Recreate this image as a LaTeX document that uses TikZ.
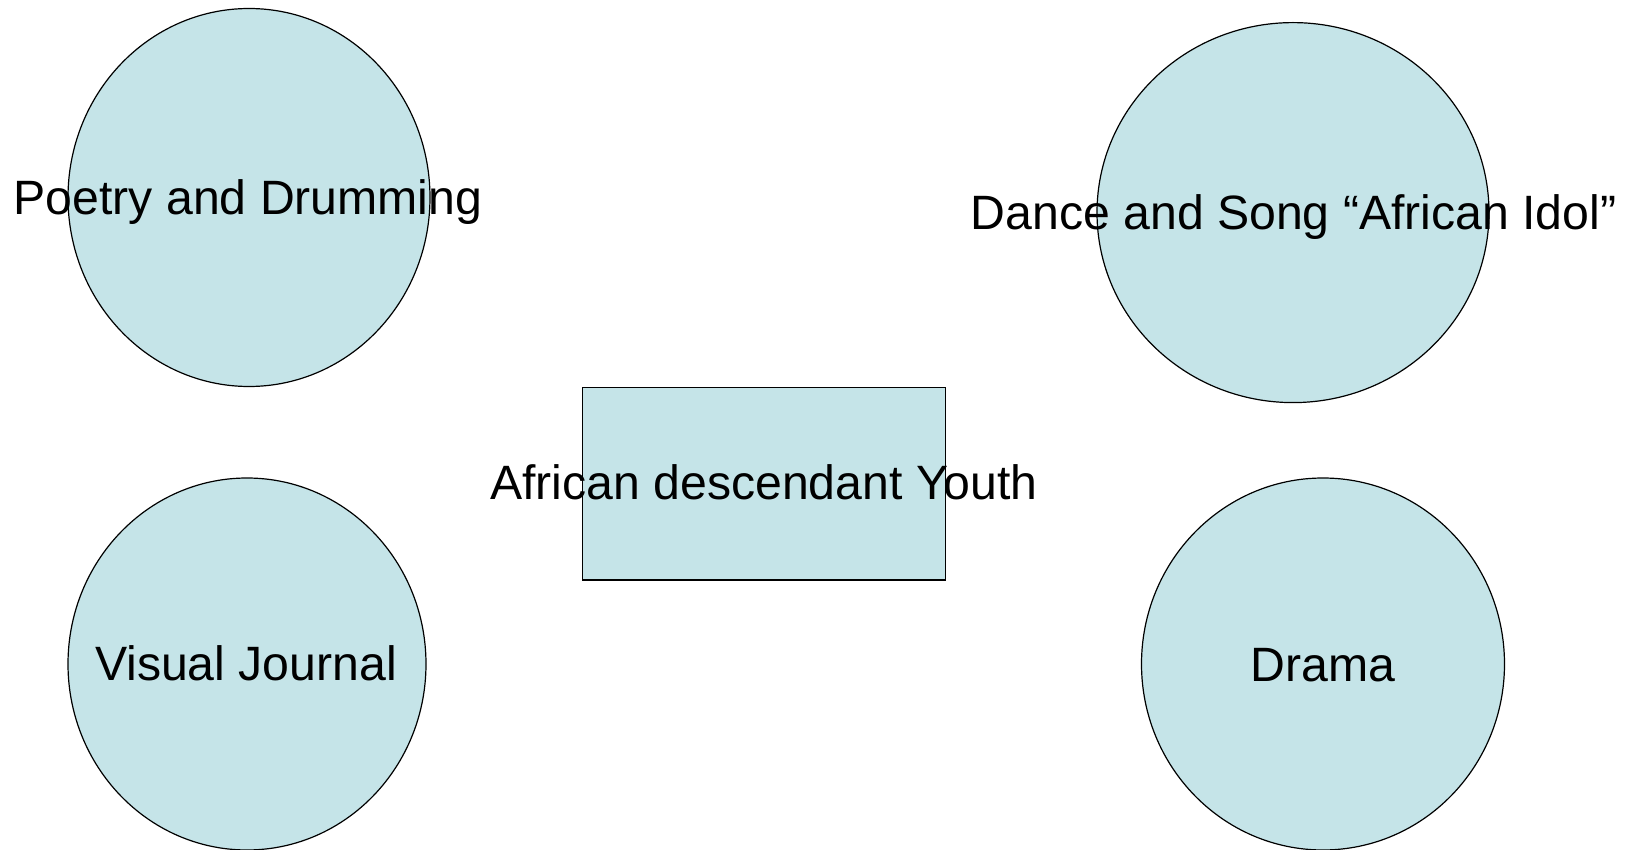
\documentclass[tikz,border=0pt]{standalone}
\usepackage{fontspec}
\setmainfont{Liberation Sans}
\usetikzlibrary{shapes.geometric}
\definecolor{paleblue}{RGB}{197,228,232}
\tikzset{
  topic/.style={ellipse, draw=black, fill=paleblue, line width=1.2pt, inner sep=0pt},
  hub/.style={rectangle, draw=black, fill=paleblue, line width=1.2pt, inner sep=0pt},
  tag/.style={font=\fontsize{48.2}{58}\selectfont, anchor=base, inner sep=0pt}
}
\begin{document}
\begin{tikzpicture}[x=1pt, y=-1pt]
    \useasboundingbox (0,0) rectangle (1626,850);
    % Shapes
    \node[topic, minimum width=362pt, minimum height=378pt] (poetry) at (249,197.5) {};
    \node[topic, minimum width=392pt, minimum height=380pt] (dance) at (1293,212.6) {};
    \node[hub, minimum width=363pt, minimum height=192.5pt] (youth) at (764,483.7) {};
    \node[topic, minimum width=358pt, minimum height=372pt] (visual) at (247,664) {};
    \node[topic, minimum width=363pt, minimum height=372pt] (drama) at (1323,664) {};
    % Labels
    \node[tag] (poetry-text) at (248,215) {Poetry and Drumming};
    \node[tag] (dance-text) at (1293.6,229.6) {Dance and Song “African Idol”};
    \node[tag] (youth-text) at (764,499.3) {African descendant Youth};
    \node[tag] (visual-text) at (246,680.7) {Visual Journal};
    \node[tag] (drama-text) at (1323,681) {Drama};
\end{tikzpicture}
\end{document}
